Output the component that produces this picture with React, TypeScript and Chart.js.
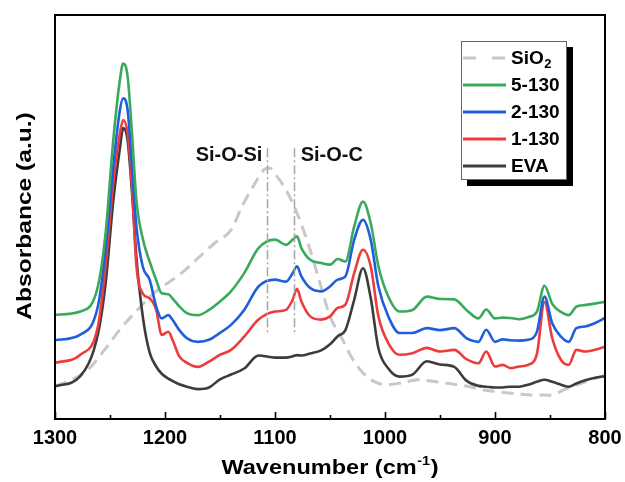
import React, { useEffect, useRef } from "react";
import { Chart, registerables } from "chart.js";

Chart.register(...registerables);

// ---------------- data ----------------
const wavenumbers = [1300, 1277, 1261, 1254, 1247, 1241, 1238, 1234, 1230, 1226, 1220, 1214, 1208, 1203, 1197, 1193, 1187, 1180, 1170, 1160, 1150, 1140, 1128, 1115, 1100, 1090, 1084, 1080, 1076, 1068, 1058, 1050, 1043, 1036, 1028, 1020, 1013, 1006, 997, 987, 975, 962, 950, 937, 926, 915, 908, 900, 893, 886, 878, 870, 862, 855, 848, 840, 833, 826, 818, 811, 800];

const green5130 = [25.8, 26.6, 32.8, 46, 69.1, 83.9, 88, 84.8, 70.7, 54.2, 44.4, 39, 34.4, 31.1, 30.9, 29.8, 27.9, 26.2, 25.7, 27, 29.1, 31.6, 36.1, 42.3, 44.4, 43.1, 44.4, 45.2, 42.3, 39.4, 38.6, 38.2, 39.6, 39, 47.7, 53.8, 48.5, 37.8, 30.3, 26.6, 27, 30.3, 29.7, 29.6, 27, 24.9, 27.1, 24.9, 25.1, 25, 24.7, 25.2, 26.5, 33, 28.5, 26.5, 25.7, 27.8, 28.2, 28.5, 29];

const blue2130 = [19.5, 20.9, 27.9, 41.9, 62.5, 76.5, 79.4, 76.5, 62.5, 47.7, 37.5, 34.5, 27.8, 24.9, 25.7, 24.5, 22, 20, 19.1, 19.6, 21.3, 23.3, 27, 32.8, 34.5, 34, 36.1, 37.8, 35.3, 32.4, 31.6, 32.8, 34.5, 35.3, 44.4, 49.3, 44.4, 32.8, 25.4, 21.3, 21.3, 22.5, 22, 22.5, 20, 19.1, 22.1, 19.1, 19.7, 19.5, 19.4, 19.6, 21.5, 30.3, 23.7, 20.4, 19.1, 22.5, 22.9, 23.5, 25];

const red1130 = [13.9, 15.9, 22.9, 37.8, 58.4, 70.7, 74, 70.7, 57.5, 38, 31, 29.9, 27, 20.8, 21.6, 19.5, 15.5, 13.9, 12.9, 14.2, 15.9, 17.1, 20.4, 24.6, 26.6, 27, 29.5, 32.2, 29.1, 25.4, 24.6, 25.4, 27.5, 28.3, 36.1, 41.9, 37.8, 25.4, 18.8, 15.9, 16.3, 17.6, 16.7, 17.1, 14.8, 13.8, 16.7, 13, 13.4, 12.6, 13, 13.4, 16, 29, 20, 14.6, 13.4, 17.1, 16.7, 17, 17.9];

const eva = [8.1, 10.6, 21, 33.6, 54, 67, 72, 69, 56, 40, 25, 16.5, 13, 11.2, 10, 9.4, 8.6, 8, 7.4, 7.8, 9.8, 11, 12.5, 15.7, 15.2, 15.2, 15.5, 15.8, 15.7, 16.2, 17, 18.5, 20.5, 22, 29.5, 37.3, 30, 17.5, 12.5, 10.5, 11, 14.3, 13.5, 12.9, 9.5, 8.2, 8, 7.8, 7.8, 8, 8, 8.5, 9.2, 9.7, 9.2, 8.5, 8, 8.8, 9.6, 10.1, 10.6];

const sio2Wavenumbers = [1300, 1285, 1270, 1255, 1240, 1225, 1210, 1200, 1185, 1170, 1155, 1140, 1130, 1120, 1110, 1105, 1098, 1090, 1080, 1070, 1060, 1050, 1040, 1030, 1020, 1010, 1000, 985, 970, 955, 940, 925, 910, 890, 870, 850, 835, 820, 800];
const sio2 = [8.1, 9.7, 12.2, 17.1, 22.5, 27, 31.2, 33.2, 36.1, 39.8, 43.5, 46.8, 52.6, 57.5, 61.7, 62.1, 60, 56.7, 51, 43.5, 34.5, 25.4, 20.4, 15.1, 11.4, 9.3, 8.5, 8.9, 9.7, 9.3, 8.7, 8.1, 7.2, 6.5, 6, 5.9, 7.5, 9, 10.8];

const seriesLabels = ["SiO2", "5-130", "2-130", "1-130", "EVA"];
const seriesColors = ["#c8c8c8", "#3aa95c", "#1f5fdc", "#ee3b3b", "#3c3c3c"];

const majorTicks = [1300, 1200, 1100, 1000, 900, 800];
const minorTicks = [1250, 1150, 1050, 950, 850];

const bandPositions = [1107, 1083];
const bandLabels = ["Si-O-Si", "Si-O-C"];
const bandLineTop = 67;
const bandLineBottom = 21;
const bandLabelY = 65.3;

// ---------------- helpers ----------------
const FONT = '"Liberation Sans", Arial, sans-serif';

function pts(xs: number[], ys: number[]) {
  return xs.map((x, i) => ({ x, y: ys[i] }));
}

function drawLabelRich(ctx: CanvasRenderingContext2D, text: string, x: number, y: number, size: number) {
  const m = /^([A-Za-z]+)(\d)$/.exec(text);
  ctx.textAlign = "left";
  ctx.textBaseline = "middle";
  ctx.font = `bold ${size}px ${FONT}`;
  if (m) {
    ctx.fillText(m[1], x, y);
    const w = ctx.measureText(m[1]).width;
    ctx.font = `bold ${Math.round(size * 0.68)}px ${FONT}`;
    ctx.fillText(m[2], x + w + 0.5, y + size * 0.3);
  } else {
    ctx.fillText(text, x, y);
  }
}

const decorPlugin = {
  id: "decor",
  afterDraw(chart: any) {
    const { ctx, chartArea: a, scales } = chart;
    const xs = scales.x;
    const ys = scales.y;
    ctx.save();

    // frame
    ctx.strokeStyle = "#000";
    ctx.lineWidth = 2;
    ctx.setLineDash([]);
    ctx.strokeRect(a.left, a.top, a.right - a.left, a.bottom - a.top);

    // inward ticks on bottom axis
    ctx.lineWidth = 1.6;
    const tick = (v: number, len: number) => {
      const px = Math.round(xs.getPixelForValue(v)) + 0.5;
      ctx.beginPath();
      ctx.moveTo(px, a.bottom);
      ctx.lineTo(px, a.bottom - len);
      ctx.stroke();
    };
    majorTicks.forEach((v) => tick(v, 7));
    minorTicks.forEach((v) => tick(v, 4));

    // band annotation lines and labels
    ctx.strokeStyle = "#a5a5a5";
    ctx.lineWidth = 1.5;
    ctx.setLineDash([9, 3, 2, 3]);
    bandPositions.forEach((v) => {
      const px = Math.round(xs.getPixelForValue(v)) + 0.5;
      ctx.beginPath();
      ctx.moveTo(px, ys.getPixelForValue(bandLineTop));
      ctx.lineTo(px, ys.getPixelForValue(bandLineBottom));
      ctx.stroke();
    });
    ctx.setLineDash([]);
    ctx.fillStyle = "#111";
    ctx.font = `bold 20px ${FONT}`;
    ctx.textBaseline = "middle";
    bandPositions.forEach((v, i) => {
      const px = xs.getPixelForValue(v);
      const py = ys.getPixelForValue(bandLabelY);
      if (i === 0) {
        ctx.textAlign = "right";
        ctx.fillText(bandLabels[i], px - 5, py);
      } else {
        ctx.textAlign = "left";
        ctx.fillText(bandLabels[i], px + 7, py);
      }
    });

    // axis titles
    ctx.fillStyle = "#000";
    // x title with superscript
    {
      const size = 21;
      const sx = 1.12;
      const main = "Wavenumber (cm";
      const sup = "-1";
      const tail = ")";
      ctx.font = `bold ${size}px ${FONT}`;
      const w1 = ctx.measureText(main).width;
      const w3 = ctx.measureText(tail).width;
      ctx.font = `bold ${Math.round(size * 0.62)}px ${FONT}`;
      const w2 = ctx.measureText(sup).width;
      const total = (w1 + w2 + w3 + 1) * sx;
      const cx = (a.left + a.right) / 2;
      const cy = 468.5;
      ctx.save();
      ctx.translate(cx - total / 2, cy);
      ctx.scale(sx, 1);
      ctx.textAlign = "left";
      ctx.textBaseline = "middle";
      ctx.font = `bold ${size}px ${FONT}`;
      ctx.fillText(main, 0, 0);
      ctx.font = `bold ${Math.round(size * 0.62)}px ${FONT}`;
      ctx.fillText(sup, w1 + 0.5, -size * 0.33);
      ctx.font = `bold ${size}px ${FONT}`;
      ctx.fillText(tail, w1 + w2 + 1, 0);
      ctx.restore();
    }
    // y title
    {
      const size = 21;
      const sx = 1.17;
      ctx.save();
      ctx.translate(25, (a.top + a.bottom) / 2 - 1);
      ctx.rotate(-Math.PI / 2);
      ctx.scale(sx, 1);
      ctx.font = `bold ${size}px ${FONT}`;
      ctx.textAlign = "center";
      ctx.textBaseline = "middle";
      ctx.fillText("Absorbance (a.u.)", 0, 0);
      ctx.restore();
    }

    // legend box with shadow
    const bx = 461, by = 41, bw = 106, bh = 139;
    ctx.fillStyle = "#000";
    ctx.fillRect(bx + 6, by + 6, bw, bh);
    ctx.fillStyle = "#fff";
    ctx.fillRect(bx, by, bw, bh);
    ctx.strokeStyle = "#666";
    ctx.lineWidth = 1;
    ctx.strokeRect(bx + 0.5, by + 0.5, bw - 1, bh - 1);

    const datasets = chart.data.datasets;
    datasets.forEach((ds: any, i: number) => {
      const cy = by + 17 + i * 27;
      ctx.strokeStyle = ds.borderColor;
      ctx.lineWidth = 3;
      ctx.setLineDash(ds.borderDash && ds.borderDash.length ? [13, 16] : []);
      ctx.beginPath();
      ctx.moveTo(bx + 2, cy);
      ctx.lineTo(bx + 45, cy);
      ctx.stroke();
      ctx.setLineDash([]);
      ctx.fillStyle = "#000";
      drawLabelRich(ctx, ds.label, bx + 50, cy + 1, 19);
    });

    ctx.restore();
  },
};

const whiteBg = {
  id: "whiteBg",
  beforeDraw(chart: any) {
    const { ctx, width, height } = chart;
    ctx.save();
    ctx.fillStyle = "#fff";
    ctx.fillRect(0, 0, width, height);
    ctx.restore();
  },
};

export default function App() {
  const ref = useRef<HTMLCanvasElement | null>(null);

  useEffect(() => {
    if (!ref.current) return;
    const seriesData = [
      pts(sio2Wavenumbers, sio2),
      pts(wavenumbers, green5130),
      pts(wavenumbers, blue2130),
      pts(wavenumbers, red1130),
      pts(wavenumbers, eva),
    ];
    const drawOrder = [10, 0, 1, 2, 3];
    const chart = new Chart(ref.current, {
      type: "line",
      data: {
        datasets: seriesData.map((d, i) => ({
          label: seriesLabels[i],
          data: d,
          borderColor: seriesColors[i],
          backgroundColor: seriesColors[i],
          borderWidth: i === 0 ? 3 : 2.6,
          borderDash: i === 0 ? [12, 7] : [],
          pointRadius: 0,
          cubicInterpolationMode: "monotone" as const,
          fill: false,
          order: drawOrder[i],
        })),
      },
      options: {
        animation: false,
        responsive: false,
        devicePixelRatio: 1,
        layout: { padding: { left: 55, right: 20, top: 15, bottom: 0 } },
        plugins: {
          legend: { display: false },
          tooltip: { enabled: false },
          title: { display: false },
        },
        events: [],
        scales: {
          x: {
            type: "linear",
            min: 800,
            max: 1300,
            reverse: true,
            afterBuildTicks: (s: any) => {
              s.ticks = majorTicks.map((v) => ({ value: v }));
            },
            afterFit: (s: any) => {
              s.height = 63;
              s.paddingLeft = 0;
              s.paddingRight = 0;
            },
            ticks: {
              autoSkip: false,
              maxRotation: 0,
              padding: 7,
              color: "#000",
              font: { family: FONT, size: 20, weight: "bold" },
              callback: (v: any) => String(v),
            },
            grid: { display: false, drawTicks: false },
            border: { display: false },
          },
          y: {
            display: false,
            min: 0,
            max: 100,
          },
        },
      },
      plugins: [whiteBg, decorPlugin],
    } as any);
    return () => chart.destroy();
  }, []);

  return (
    <div style={{ position: "absolute", left: 0, top: 0, width: 625, height: 482, background: "#fff" }}>
      <canvas ref={ref} width={625} height={482} style={{ display: "block", width: 625, height: 482 }} />
    </div>
  );
}
